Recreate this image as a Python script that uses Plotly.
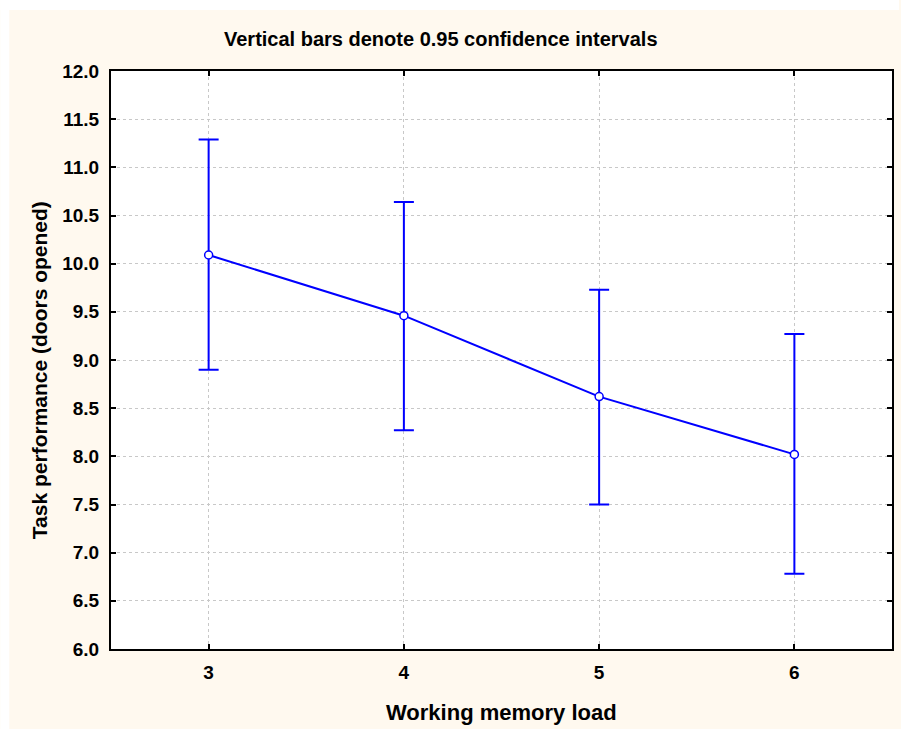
import plotly.graph_objects as go

load = [3, 4, 5, 6]
mean_perf = [10.09, 9.46, 8.62, 8.02]
ci_upper = [11.29, 10.64, 9.73, 9.27]
ci_lower = [8.90, 8.27, 7.50, 6.78]
y_ticks = [6.0, 6.5, 7.0, 7.5, 8.0, 8.5, 9.0, 9.5, 10.0, 10.5, 11.0, 11.5, 12.0]

err_plus = [u - m for u, m in zip(ci_upper, mean_perf)]
err_minus = [m - l for m, l in zip(mean_perf, ci_lower)]

W, H = 901, 729
L, R, T, B = 111, 894, 71, 649
pw, ph = R - L, B - T

def px(x):
    return (x - L) / pw

def py(y):
    return (B - y) / ph

FONT = "Arial, Liberation Sans, sans-serif"
BLUE = "#0000FF"
CREAM = "#FFF9EF"

fig = go.Figure()
fig.add_trace(go.Scatter(
    x=load, y=mean_perf, mode="lines+markers",
    line=dict(color=BLUE, width=2),
    marker=dict(symbol="circle", size=8, color="white", line=dict(color=BLUE, width=1.5)),
    error_y=dict(type="data", symmetric=False, array=err_plus, arrayminus=err_minus,
                 color=BLUE, thickness=2, width=10),
    showlegend=False, cliponaxis=False,
))

axis_common = dict(
    showline=True, linecolor="black", linewidth=2, mirror="ticks",
    ticks="inside", ticklen=5, tickcolor="black", tickwidth=1.5,
    showgrid=True, gridcolor="#C8C8C8", griddash="dot", gridwidth=1,
    zeroline=False,
    tickfont=dict(family=FONT, size=19, color="black", weight="bold"),
)

fig.update_xaxes(range=[2.5, 6.5], tickvals=load, ticktext=[str(v) for v in load],
                 ticklabelstandoff=5, **axis_common)
fig.update_yaxes(range=[6, 12], tickvals=y_ticks, ticktext=[f"{v:.1f}" for v in y_ticks],
                 ticklabelstandoff=6, **axis_common)

fig.update_layout(
    width=W, height=H,
    margin=dict(l=L, r=W - R, t=T, b=H - B, pad=0),
    paper_bgcolor=CREAM, plot_bgcolor="white",
    shapes=[
        dict(type="rect", xref="paper", yref="paper", x0=px(0), x1=px(9), y0=py(H), y1=py(0),
             fillcolor="white", line=dict(width=0), layer="below"),
        dict(type="rect", xref="paper", yref="paper", x0=px(0), x1=px(W), y0=py(10), y1=py(0),
             fillcolor="white", line=dict(width=0), layer="below"),
    ],
    annotations=[
        dict(text="Vertical bars denote 0.95 confidence intervals", xref="paper", yref="paper",
             x=px(442), y=py(39), xanchor="center", yanchor="middle", showarrow=False,
             font=dict(family=FONT, size=20, color="black", weight="bold")),
        dict(text="Working memory load", xref="paper", yref="paper",
             x=px(502), y=py(712), xanchor="center", yanchor="middle", showarrow=False,
             font=dict(family=FONT, size=22, color="black", weight="bold")),
        dict(text="Task performance (doors opened)", xref="paper", yref="paper",
             x=px(39), y=py(370), xanchor="center", yanchor="middle", showarrow=False,
             textangle=-90,
             font=dict(family=FONT, size=21, color="black", weight="bold")),
    ],
)

fig.write_html("out.html")
